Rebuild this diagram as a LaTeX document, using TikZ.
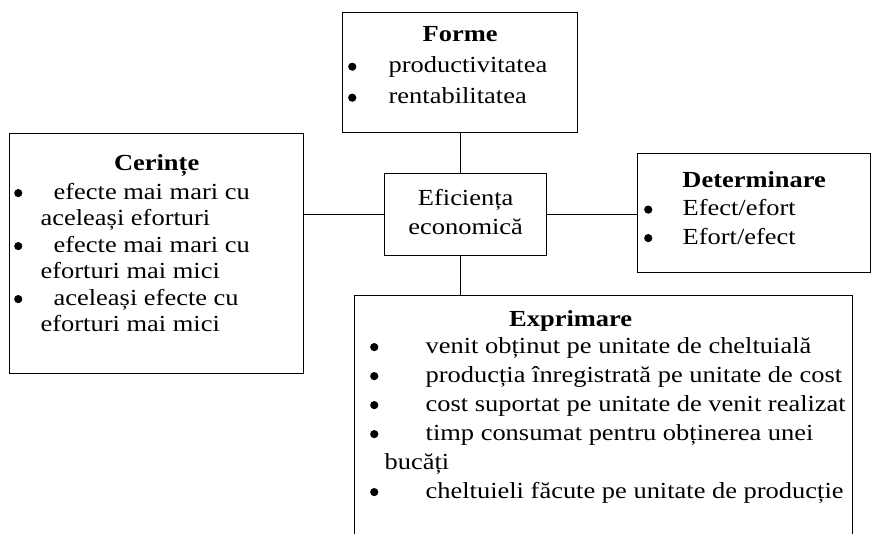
\documentclass[tikz,border=0pt]{standalone}
\usepackage{fontspec}
\setmainfont{Liberation Serif}[FakeStretch=1.15]
\newlength{\bulx}
\newlength{\bulw}
\newlength{\wrapx}
\newcommand{\bigbul}{\tikz[baseline=-6pt]\fill (0,0) circle[radius=4.1pt];}
\newcommand{\itm}[1]{\hspace*{\bulx}\makebox[\bulw][l]{\bigbul}#1\par}
\newcommand{\wrp}[1]{\hspace*{\wrapx}#1\par}
\newcommand{\ttl}[1]{\makebox[\linewidth]{\textbf{#1}}\par}
\newcommand{\boxbody}[3]{\begin{minipage}[t][#1][t]{#2}#3\end{minipage}}
\begin{document}
\begin{tikzpicture}[x=1pt, y=-1pt,
    panel/.style={rectangle, draw, line width=1.3pt, inner sep=0pt, anchor=north west},
    link/.style={line width=1.3pt},
    font=\fontsize{23pt}{28pt}\selectfont
]
\clip (0,0) rectangle (872,534);

% centre box
\node[panel] (eff) at (384,173) {\boxbody{82pt}{162pt}{\fontsize{23pt}{29pt}\selectfont
    \vspace*{16pt}\centering Eficiența\\ economică}};

% top box
\node[panel] (forme) at (342,12) {\boxbody{120pt}{235pt}{\fontsize{23pt}{31pt}\selectfont
    \setlength{\bulx}{5.5pt}\setlength{\bulw}{40.5pt}\vspace*{14pt}
    \ttl{Forme}
    \itm{productivitatea}
    \itm{rentabilitatea}}};

% left box
\node[panel] (cer) at (9,133) {\boxbody{240pt}{294pt}{\fontsize{23pt}{26.5pt}\selectfont
    \setlength{\bulx}{4.5pt}\setlength{\bulw}{39.5pt}\setlength{\wrapx}{31pt}\vspace*{20.5pt}
    \ttl{Cerințe}\vspace{2.5pt}
    \itm{efecte mai mari cu}
    \wrp{aceleași eforturi}
    \itm{efecte mai mari cu}
    \wrp{eforturi mai mici}
    \itm{aceleași efecte cu}
    \wrp{eforturi mai mici}}};

% right box
\node[panel] (det) at (637,153) {\boxbody{119pt}{233pt}{\fontsize{23pt}{28.5pt}\selectfont
    \setlength{\bulx}{6.5pt}\setlength{\bulw}{38.5pt}\vspace*{17.5pt}
    \ttl{Determinare}
    \itm{Efect/efort}
    \itm{Efort/efect}}};

% bottom box (cut by the frame)
\node[panel] (expr) at (354,295) {\boxbody{300pt}{498pt}{\fontsize{23pt}{29pt}\selectfont
    \setlength{\bulx}{15.5pt}\setlength{\bulw}{55.5pt}\setlength{\wrapx}{30pt}\vspace*{14.5pt}
    \makebox[432pt]{\textbf{Exprimare}}\par\vspace{-2pt}
    \itm{venit obținut pe unitate de cheltuială}
    \itm{producția înregistrată pe unitate de cost}
    \itm{cost suportat pe unitate de venit realizat}
    \itm{timp consumat pentru obținerea unei}
    \wrp{bucăți}
    \itm{cheltuieli făcute pe unitate de producție}}};

% connectors
\draw[link] (forme.south) -- (forme.south |- eff.north);
\draw[link] (eff.south -| forme.south) -- (expr.north -| forme.south);
\draw[link] (eff.west) -- (eff.west -| cer.east);
\draw[link] (eff.east) -- (eff.east -| det.west);

\end{tikzpicture}
\end{document}
